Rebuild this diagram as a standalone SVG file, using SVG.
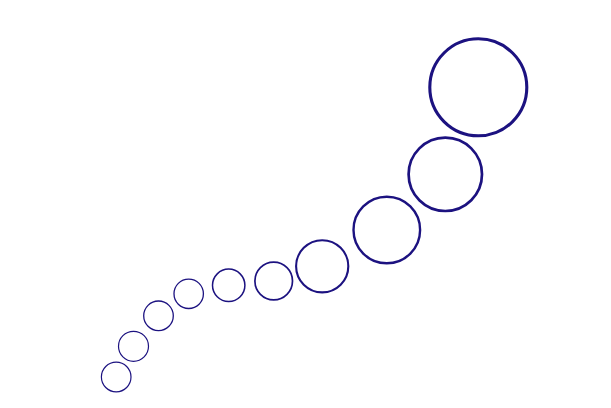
<svg xmlns="http://www.w3.org/2000/svg" width="611" height="408" viewBox="0 0 611 408">
<style>
circle { fill: none; stroke: #1c1280; }
</style>
<rect width="611" height="408" fill="#ffffff"/>
<g id="n1"><circle cx="116.2" cy="377" r="14.8" stroke-width="1.2"/></g>
<g id="n2"><circle cx="133.5" cy="346.3" r="15" stroke-width="1.2"/></g>
<g id="n3"><circle cx="158.5" cy="315.8" r="14.8" stroke-width="1.3"/></g>
<g id="n4"><circle cx="188.7" cy="293.8" r="14.7" stroke-width="1.3"/></g>
<g id="n5"><circle cx="228.7" cy="285.3" r="16.2" stroke-width="1.5"/></g>
<g id="n6"><circle cx="273.7" cy="281" r="18.8" stroke-width="1.7"/></g>
<g id="n7"><circle cx="322.2" cy="266.3" r="26.1" stroke-width="2.1"/></g>
<g id="n8"><circle cx="386.8" cy="230" r="33.3" stroke-width="2.4"/></g>
<g id="n9"><circle cx="445.3" cy="174.3" r="36.7" stroke-width="2.7"/></g>
<g id="n10"><circle cx="478.3" cy="87.3" r="48.5" stroke-width="3.1"/></g>
<g id="connectors"></g>
</svg>
